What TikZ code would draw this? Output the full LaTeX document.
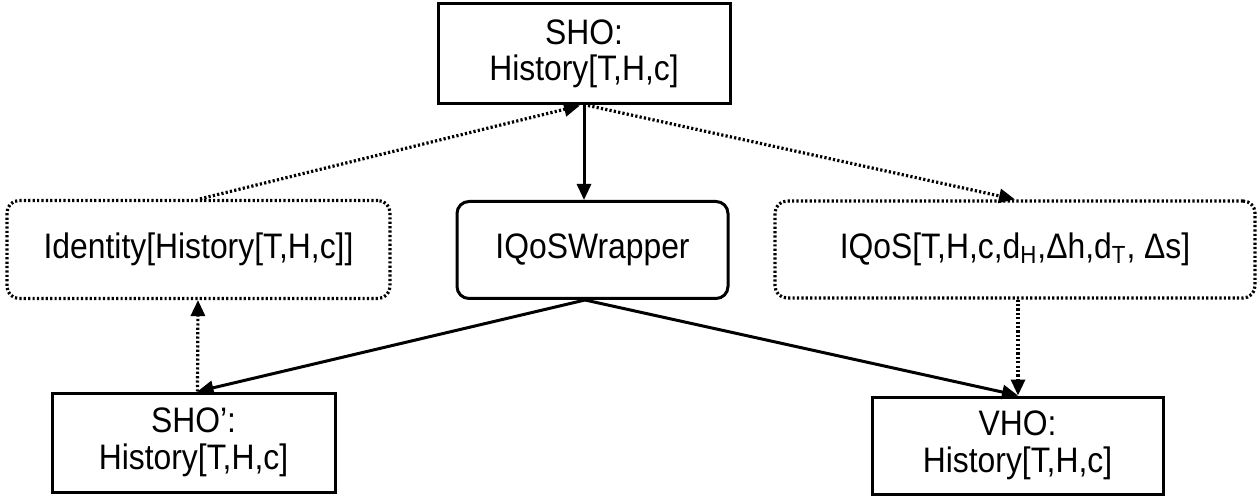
\documentclass[tikz,border=0pt]{standalone}
\usepackage{fontspec}
\setmainfont{Liberation Sans}[FakeStretch=0.9]
\usetikzlibrary{arrows.meta,calc}
\begin{document}
\begin{tikzpicture}[x=0.5pt,y=-0.5pt,
  box/.style={draw,line width=1.5pt,align=center,inner sep=0pt,
    font=\fontsize{17.7}{18.2}\selectfont},
  plainbox/.style={box},
  roundbox/.style={box,rounded corners=6pt},
  dots/.style={line width=1.6pt,dash pattern=on 1.1pt off 1.1pt},
  dotbox/.style={roundbox,dots},
  tip/.style={-{Triangle[length=8pt,width=7pt]}},
  solidarrow/.style={line width=1.5pt,tip},
  dotarrow/.style={dots,tip}]
\useasboundingbox (0,0) rectangle (1257,496);

% boxes
\node[plainbox,minimum width=146pt,minimum height=50pt] (sho) at (584,54)
  {SHO:\\History[T,H,c]};
\node[dotbox,minimum width=191.5pt,minimum height=49pt] (ident) at (198.5,249.5)
  {Identity[History[T,H,c]]};
\node[roundbox,minimum width=135.5pt,minimum height=48.5pt] (wrap) at (592.5,250)
  {IQoSWrapper};
\node[dotbox,minimum width=240pt,minimum height=48.5pt] (iqos) at (1015,249.5)
  {IQoS[T,H,c,d\textsubscript{H},Δh,d\textsubscript{T}, Δs]};
\node[plainbox,minimum width=141.5pt,minimum height=49.5pt] (shop) at (193.5,442.5)
  {SHO’:\\History[T,H,c]};
\node[plainbox,minimum width=145.5pt,minimum height=48.5pt] (vho) at (1017.5,445.5)
  {VHO:\\History[T,H,c]};

% connector end points on the box edges
\coordinate (shoL) at ($(sho.south)+(-4,0)$);
\coordinate (shoR) at ($(sho.south)+(4,0)$);
\coordinate (identT) at ($(ident.north)+(1.5,0)$);
\coordinate (identB) at ($(ident.south)+(-0.5,0)$);
\coordinate (iqosT) at ($(iqos.north)+(0,0)$);
\coordinate (iqosB) at ($(iqos.south)+(3,0)$);
\coordinate (wrapB) at ($(wrap.south)+(-7.5,0)$);
\coordinate (shopT) at ($(shop.north)+(4,0)$);
\coordinate (vhoT) at ($(vho.north)+(0.5,0)$);

% connectors
\draw[solidarrow] (sho.south) -- (sho.south |- wrap.north);
\draw[dotarrow] (identT) -- (shoL);
\draw[dotarrow] (shoR) -- (iqosT);
\draw[solidarrow] (wrapB) -- (shopT);
\draw[solidarrow] (wrapB) -- (vhoT);
\draw[dotarrow] (shopT) -- (identB);
\draw[dotarrow] (iqosB) -- (vhoT);
\end{tikzpicture}
\end{document}
